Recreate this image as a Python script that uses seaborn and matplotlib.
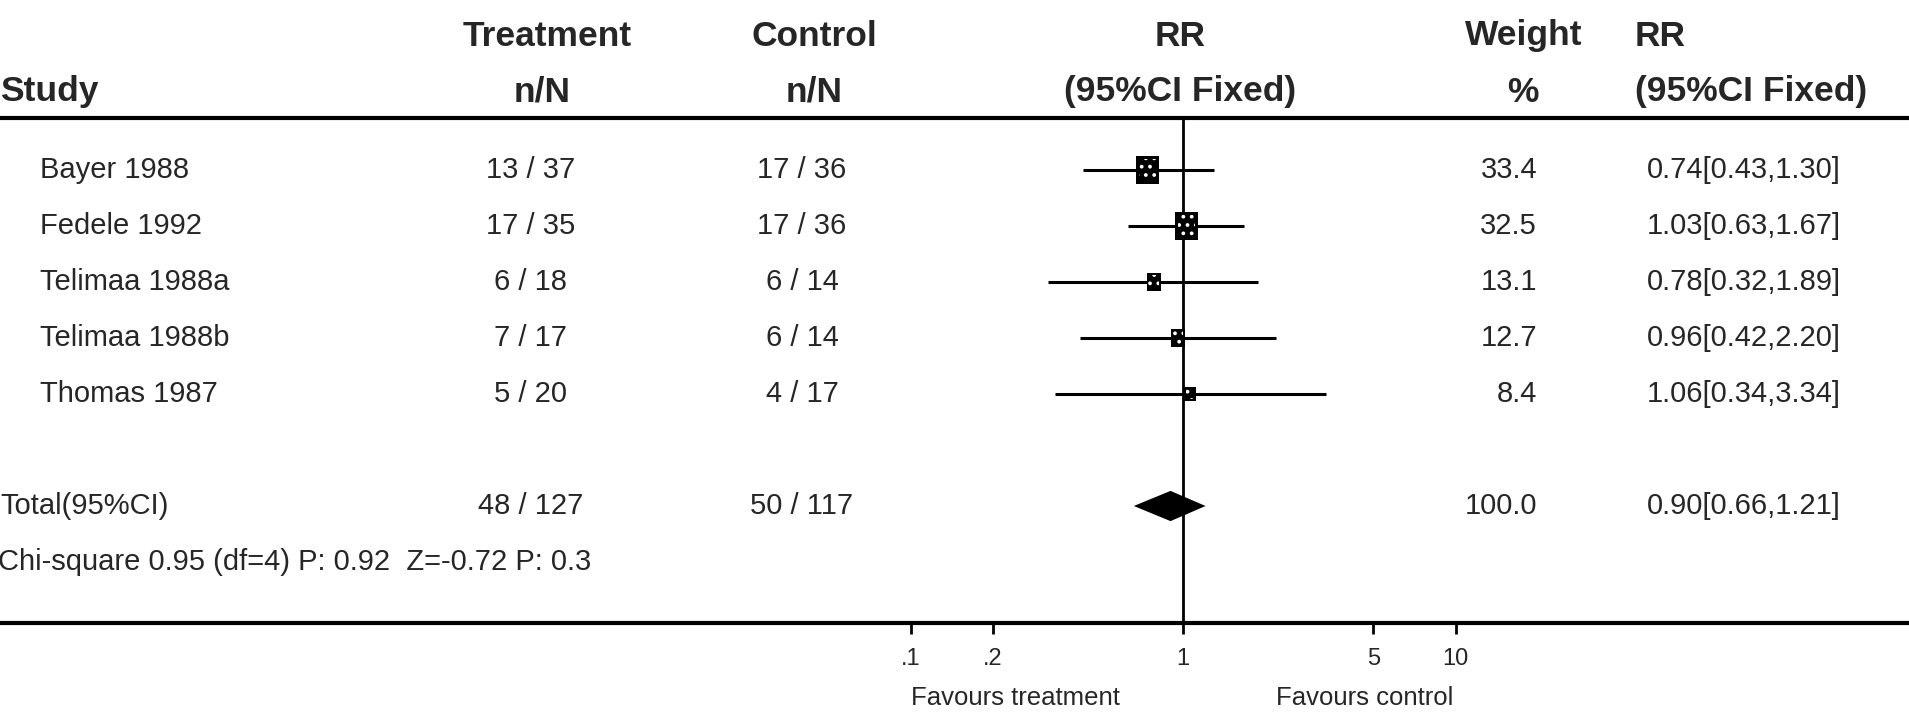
import numpy as np
import pandas as pd
import matplotlib
matplotlib.use("Agg")
import matplotlib.pyplot as plt
import matplotlib.transforms as mtransforms
from matplotlib.path import Path
import seaborn as sns

# data
studies = ["Bayer 1988", "Fedele 1992", "Telimaa 1988a", "Telimaa 1988b", "Thomas 1987"]
treat_n = [13, 17, 6, 7, 5]
treat_N = [37, 35, 18, 17, 20]
ctrl_n = [17, 17, 6, 6, 4]
ctrl_N = [36, 36, 14, 14, 17]
weights = [33.4, 32.5, 13.1, 12.7, 8.4]
rr = [0.74, 1.03, 0.78, 0.96, 1.06]
rr_lo = [0.43, 0.63, 0.32, 0.42, 0.34]
rr_hi = [1.30, 1.67, 1.89, 2.20, 3.34]

total_label = "Total(95%CI)"
total_treat = (48, 127)
total_ctrl = (50, 117)
total_weight = 100.0
total_rr, total_lo, total_hi = 0.90, 0.66, 1.21
het_text = "Chi-square 0.95 (df=4) P: 0.92  Z=-0.72 P: 0.3"

tick_values = [0.1, 0.2, 1, 5, 10]
tick_labels = [".1", ".2", "1", "5", "10"]
favours = ["Favours treatment", "Favours control"]

# layout (pixels)
W, H = 1909, 713
row0_px, row_step = 170, 56
x_one_px, decade_px = 1183, 272.5


def row_of(px):
    return (px - row0_px) / row_step


def fx(px):
    return px / W


sns.set_style("white")
plt.rcParams["font.family"] = ["Liberation Sans", "DejaVu Sans"]
plt.rcParams["hatch.color"] = "white"
plt.rcParams["hatch.linewidth"] = 1.5

fig = plt.figure(figsize=(W / 100, H / 100), dpi=100)
ax = fig.add_axes([0, 0, 1, 1])
ax.set_xscale("log")
ax.set_xlim(10 ** (-x_one_px / decade_px), 10 ** ((W - x_one_px) / decade_px))
ax.set_ylim(row_of(H), row_of(0))
ax.axis("off")

df = pd.DataFrame({
    "study": studies, "rr": rr, "lo": rr_lo, "hi": rr_hi,
    "weight": weights, "row": np.arange(len(studies)),
})
total_row = len(studies) + 1
het_row = total_row + 1

# lines
header_y = row_of(118)
axis_y = row_of(623)
ax.axhline(header_y, color="black", lw=3)
ax.axhline(axis_y, color="black", lw=3)
ax.vlines(1, header_y, axis_y, color="black", lw=2)
ax.vlines(tick_values, axis_y, row_of(634), color="black", lw=2)

# confidence intervals
ax.hlines(df["row"], df["lo"], df["hi"], color="black", lw=2.2, zorder=2)

# weighted boxes, dotted inside
box = Path([(-0.39, -0.5), (0.39, -0.5), (0.39, 0.5), (-0.39, 0.5), (-0.39, -0.5)],
           [Path.MOVETO, Path.LINETO, Path.LINETO, Path.LINETO, Path.CLOSEPOLY])
sns.scatterplot(data=df, x="rr", y="row", size="weight", sizes=(0, 430),
                size_norm=(0, max(weights)), marker=box, color="black",
                linewidth=0, legend=False, ax=ax, zorder=3)
sns.scatterplot(data=df, x="rr", y="row", size="weight", sizes=(0, 240),
                size_norm=(0, max(weights)), marker=box, facecolor="none",
                edgecolor="white", linewidth=0, hatch="..", legend=False,
                ax=ax, zorder=4)

# pooled diamond
ax.fill([total_lo, total_rr, total_hi, total_rr],
        [total_row, total_row - 0.27, total_row, total_row + 0.27],
        color="black", lw=0, zorder=3)

# tick labels
for v, lab in zip(tick_values, tick_labels):
    ax.text(v, row_of(659), lab, ha="center", va="center", fontsize=17)
ax.text(0.1, row_of(698), favours[0], ha="left", va="center", fontsize=18.5)
ax.text(2.2, row_of(698), favours[1], ha="left", va="center", fontsize=18.5)

# column text
tr = mtransforms.blended_transform_factory(fig.transFigure, ax.transData)
hdr = dict(fontsize=25.5, fontweight="bold", va="center", transform=tr)
top_y, sub_y = row_of(36), row_of(92)
ax.text(fx(0), sub_y, "Study", ha="left", **hdr)
ax.text(fx(547), top_y, "Treatment", ha="center", **hdr)
ax.text(fx(542), sub_y, "n/N", ha="center", **hdr)
ax.text(fx(814), top_y, "Control", ha="center", **hdr)
ax.text(fx(814), sub_y, "n/N", ha="center", **hdr)
ax.text(fx(1180), top_y, "RR", ha="center", **hdr)
ax.text(fx(1180), sub_y, "(95%CI Fixed)", ha="center", **hdr)
ax.text(fx(1524), top_y, "Weight", ha="center", **hdr)
ax.text(fx(1523), sub_y, "%", ha="center", **hdr)
ax.text(fx(1635), top_y, "RR", ha="left", **hdr)
ax.text(fx(1635), sub_y, "(95%CI Fixed)", ha="left", **hdr)

body = dict(fontsize=21, va="center", transform=tr)
for i in range(len(studies)):
    ax.text(fx(40), i, studies[i], ha="left", **body)
    ax.text(fx(531), i, f"{treat_n[i]} / {treat_N[i]}", ha="center", **body)
    ax.text(fx(802), i, f"{ctrl_n[i]} / {ctrl_N[i]}", ha="center", **body)
    ax.text(fx(1537), i, f"{weights[i]:.1f}", ha="right", **body)
    ax.text(fx(1647), i, f"{rr[i]:.2f}[{rr_lo[i]:.2f},{rr_hi[i]:.2f}]", ha="left", **body)

ax.text(fx(0), total_row, total_label, ha="left", **body)
ax.text(fx(531), total_row, f"{total_treat[0]} / {total_treat[1]}", ha="center", **body)
ax.text(fx(802), total_row, f"{total_ctrl[0]} / {total_ctrl[1]}", ha="center", **body)
ax.text(fx(1537), total_row, f"{total_weight:.1f}", ha="right", **body)
ax.text(fx(1647), total_row, f"{total_rr:.2f}[{total_lo:.2f},{total_hi:.2f}]", ha="left", **body)
ax.text(fx(-2), het_row, het_text, ha="left", **body)

fig.savefig("out.png", dpi=100, facecolor="white")
